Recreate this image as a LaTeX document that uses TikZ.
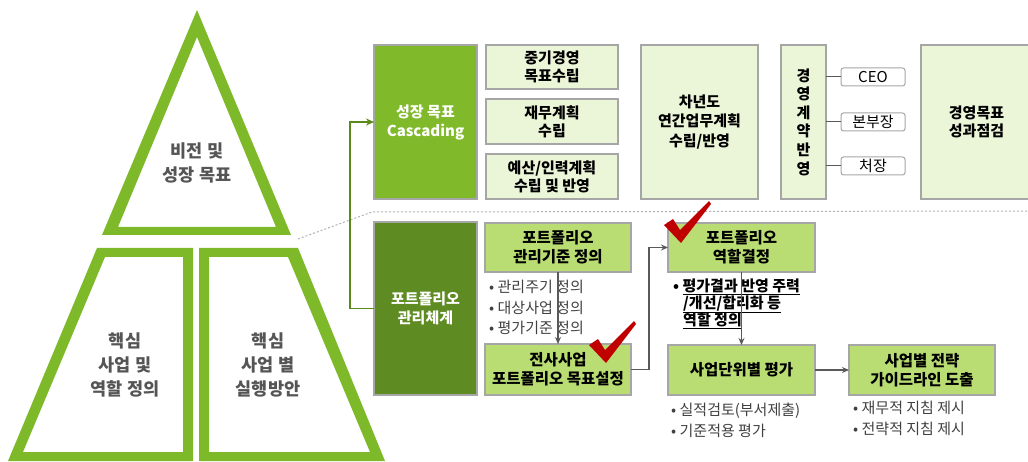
\documentclass[tikz,border=0pt]{standalone}
\usepackage{fontspec}
\setmainfont{Noto Sans CJK KR}
\usetikzlibrary{arrows.meta}
\definecolor{tri}{HTML}{7DB928}
\definecolor{casg}{HTML}{80BA2A}
\definecolor{darkg}{HTML}{5E8C22}
\definecolor{lightg}{HTML}{EBF5D8}
\definecolor{midg}{HTML}{B9DD72}
\definecolor{boxgray}{HTML}{A6A6A6}
\definecolor{arrgray}{HTML}{595959}
\definecolor{txtgray}{HTML}{404040}
\definecolor{trigray}{HTML}{555555}
\definecolor{checkred}{HTML}{C00000}
\definecolor{linkg}{HTML}{5A8A1A}
\tikzset{
  box/.style={draw=boxgray, line width=1.2pt, inner sep=0pt, outer sep=0pt, align=center,
    font=\fontsize{15}{18}\selectfont\bfseries},
  lbox/.style={box, fill=lightg},
  mbox/.style={box, fill=midg, font=\fontsize{15.5}{19}\selectfont\bfseries},
  gbox/.style={box, text=white, font=\fontsize{15}{19}\selectfont\bfseries},
  rbox/.style={draw=boxgray, line width=1pt, fill=white, rounded corners=2.5pt, inner sep=0pt,
    minimum width=64pt, minimum height=18pt, font=\fontsize{15}{16}\selectfont},
  tritext/.style={align=center, text=trigray, font=\fontsize{17.5}{24}\selectfont\bfseries},
  bullet/.style={anchor=west, inner sep=0pt, text=txtgray, font=\fontsize{15}{16}\selectfont},
  ubullet/.style={anchor=west, inner sep=0pt, text=black, font=\fontsize{15}{16}\selectfont\bfseries},
  arr/.style={draw=arrgray, line width=1.3pt, -{Stealth[length=7pt,width=6pt]}},
  glink/.style={draw=linkg, line width=1.8pt},
  thin/.style={draw=arrgray, line width=1pt},
  dotline/.style={draw=black!30, line width=1pt, dash pattern=on 2pt off 2pt},
  redcheck/.pic={\fill[checkred] (-15,-15) -- (-6,-21) -- (1,-10) -- (30,-39) -- (32,-36) -- (2,3) -- cycle;}
}
\begin{document}
\begin{tikzpicture}[x=1pt,y=-1pt]
\useasboundingbox (0,0) rectangle (1028,462);
% pyramid
\fill[tri, even odd rule] (197,10) -- (102,235) -- (291,235) -- cycle
  (197,37) -- (118,227) -- (276,227) -- cycle;
\fill[tri, even odd rule] (97,248) -- (193,248) -- (193,461) -- (8,461) -- cycle
  (105,257) -- (183,257) -- (183,452) -- (23,452) -- cycle;
\fill[tri, even odd rule] (199,248) -- (298,248) -- (385,461) -- (199,461) -- cycle
  (209,257) -- (288,257) -- (370,452) -- (209,452) -- cycle;
\node[tritext] (t1) at (197,163) {비전 및\\성장 목표};
\node[tritext] (t2) at (125,365) {핵심\\사업 및\\역할 정의};
\node[tritext] (t3) at (268,365) {핵심\\사업 별\\실행방안};
% dotted separator
\coordinate (d0) at (298,239);
\coordinate (d1) at (372,212);
\coordinate (d2) at (1030,211);
\draw[dotline] (d0) -- (d1) -- (d2);
% top row
\node[gbox, fill=casg, minimum width=103pt, minimum height=154pt] (cas) at (425.5,122) {성장 목표\\Cascading};
\node[lbox, minimum width=132pt, minimum height=44pt] (b1) at (552,67) {중기경영\\목표수립};
\node[lbox, minimum width=132pt, minimum height=45pt] (b2) at (552,121.5) {재무계획\\수립};
\node[lbox, minimum width=132pt, minimum height=45pt] (b3) at (552,176.5) {예산/인력계획\\수립 및 반영};
\node[lbox, minimum width=117pt, minimum height=154pt, font=\fontsize{15}{19.5}\selectfont\bfseries] (yr) at (699.5,122) {차년도\\연간업무계획\\수립/반영};
\node[lbox, minimum width=45pt, minimum height=154pt, font=\fontsize{15}{18.6}\selectfont\bfseries] (vb) at (803.5,122) {경\\영\\계\\약\\반\\영};
\node[rbox] (ceo) at (873,77) {CEO};
\node[rbox] (bb) at (873,122) {본부장};
\node[rbox] (cj) at (873,166) {처장};
\draw[thin] (vb.east |- ceo.west) -- (ceo.west);
\draw[thin] (vb.east |- bb.west) -- (bb.west);
\draw[thin] (vb.east |- cj.west) -- (cj.west);
\node[lbox, minimum width=111pt, minimum height=154pt] (pf) at (976.5,122) {경영목표\\성과점검};
% bottom row
\node[gbox, fill=darkg, minimum width=103pt, minimum height=173pt] (pm) at (425.5,308.5) {포트폴리오\\관리체계};
\node[mbox, minimum width=146pt, minimum height=49pt] (k1) at (558,247.5) {포트폴리오\\관리기준 정의};
\node[mbox, minimum width=146pt, minimum height=51pt] (k2) at (558,369.5) {전사사업\\포트폴리오 목표설정};
\node[mbox, minimum width=147pt, minimum height=49pt] (r1) at (741.5,247.5) {포트폴리오\\역할결정};
\node[mbox, minimum width=147pt, minimum height=50pt] (r2) at (741.5,370) {사업단위별 평가};
\node[mbox, minimum width=146pt, minimum height=50pt] (g) at (922,370) {사업별 전략\\가이드라인 도출};
% bullets
\node[bullet] (k1a) at (489,287) {• 관리주기 정의};
\node[bullet] (k1b) at (489,307.5) {• 대상사업 정의};
\node[bullet] (k1c) at (489,328) {• 평가기준 정의};
\node[ubullet] (r1a) at (673,287) {• \underline{평가결과 반영 주력}};
\node[ubullet] (r1b) at (683,304) {\underline{/개선/합리화 등}};
\node[ubullet] (r1c) at (683,320.5) {\underline{역할 정의}};
\node[bullet] (r2a) at (671,411) {• 실적검토(부서제출)};
\node[bullet] (r2b) at (671,431) {• 기준적용 평가};
\node[bullet] (ga) at (853,408) {• 재무적 지침 제시};
\node[bullet] (gb) at (853,429) {• 전략적 지침 제시};
% connectors
\draw[arr] (k1.south) -- (k2.north);
\draw[arr] (k2.east) -- ++(18,0) |- (r1.west);
\draw[arr] (r1.south) -- (r2.north);
\draw[arr] (r2.east) -- (g.west);
\draw[glink, -{Stealth[length=8pt,width=7pt]}] (pm.west) -- ++(-24,0) |- (cas.west);
% check marks
\pic at (604,360) {redcheck};
\pic at (679,240) {redcheck};
\end{tikzpicture}
\end{document}
